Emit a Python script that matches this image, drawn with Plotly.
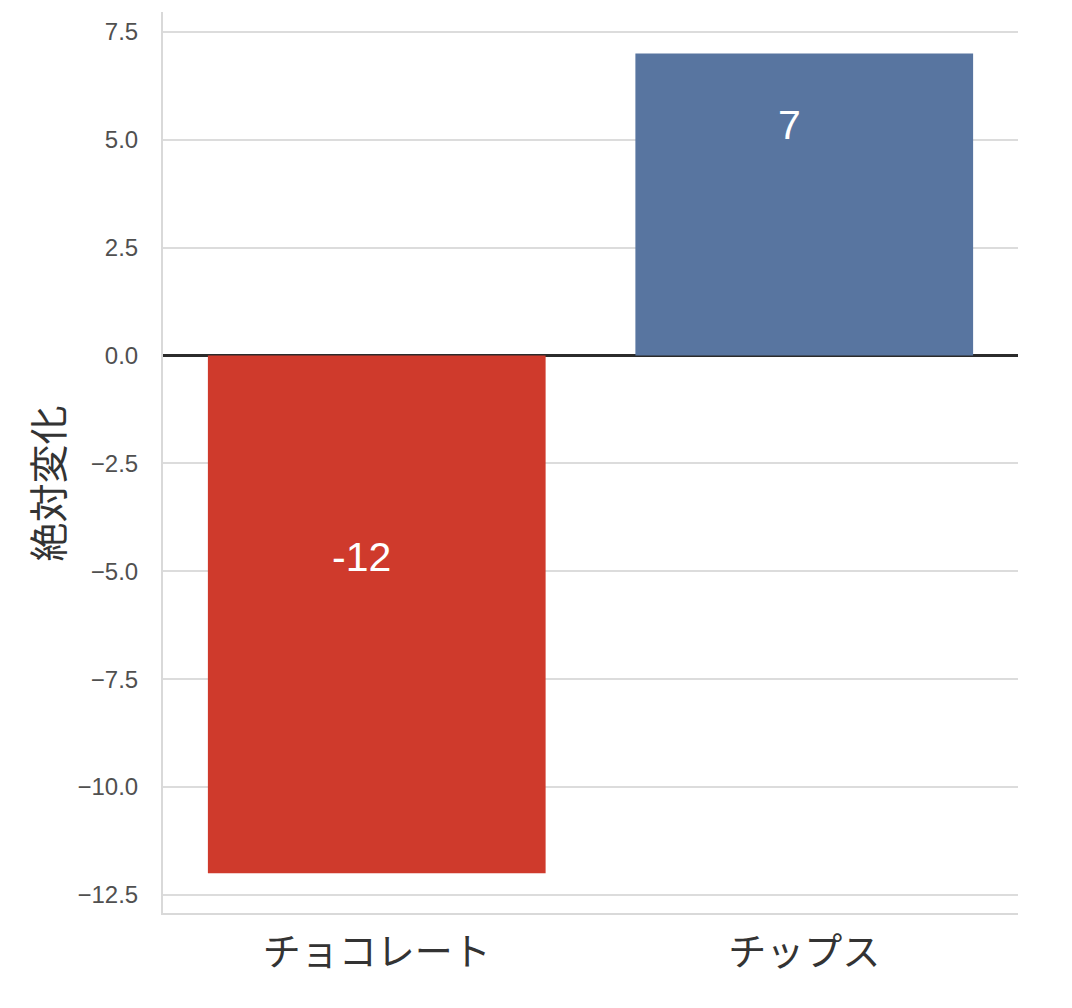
import plotly.graph_objects as go

categories = ["チョコレート", "チップス"]
values = [-12, 7]
bar_colors = ["#cf3a2c", "#5875a0"]
label_frac = [0.396, 0.75]
y_ticks = [-12.5, -10.0, -7.5, -5.0, -2.5, 0.0, 2.5, 5.0, 7.5]

fig = go.Figure()
fig.add_trace(go.Bar(
    x=categories, y=values, marker=dict(color=bar_colors, line=dict(width=0)),
    width=0.79, showlegend=False, hoverinfo="skip",
))
for c, v, f in zip(categories, values, label_frac):
    fig.add_annotation(x=c, y=v * f, text=str(v), showarrow=False, xshift=-15, yshift=4,
                       font=dict(size=41, color="white", family="Liberation Sans, Arial"))

fig.add_annotation(
    xref="paper", yref="paper", x=0, y=0.5, xanchor="center", yanchor="middle",
    xshift=-118, yshift=-21, textangle=-90, showarrow=False, text="絶対変化",
    font=dict(size=39, color="#333333", family="Noto Sans CJK JP"),
)

fig.update_layout(
    width=1072, height=1008,
    margin=dict(l=155, r=62, t=4, b=103),
    plot_bgcolor="white", paper_bgcolor="white",
)
fig.update_xaxes(
    showgrid=False, showline=True, linecolor="#d9d9d9", linewidth=2,
    ticks="", tickfont=dict(size=38, color="#333333", family="Noto Sans CJK JP"),
    ticklabelstandoff=4,
)
fig.update_yaxes(
    range=[-12.92, 7.96], tickvals=y_ticks, tickformat=".1f",
    showgrid=True, gridcolor="#dcdcdc", gridwidth=2,
    showline=True, linecolor="#d9d9d9", linewidth=2,
    zeroline=True, zerolinecolor="#2b2b2b", zerolinewidth=3,
    ticks="", tickfont=dict(size=24, color="#505050", family="Liberation Sans, Arial"),
    ticklabelstandoff=18,
)
fig.write_html("out.html")
